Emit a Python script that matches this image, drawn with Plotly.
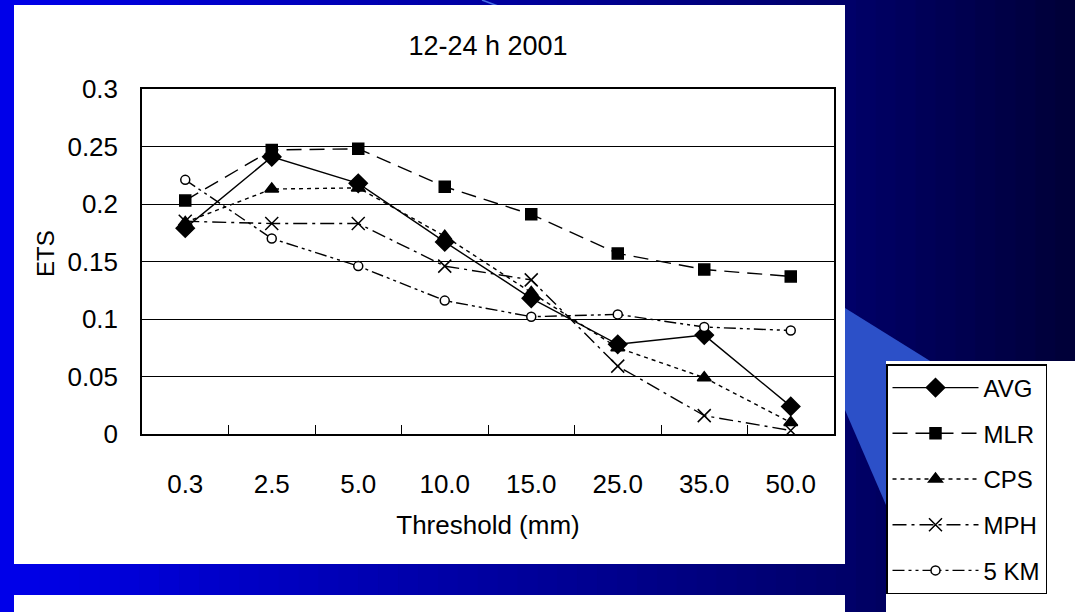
import plotly.graph_objects as go

# ---- data ----
thresholds = ["0.3", "2.5", "5.0", "10.0", "15.0", "25.0", "35.0", "50.0"]
avg = [0.179, 0.241, 0.218, 0.167, 0.118, 0.078, 0.086, 0.024]
mlr = [0.203, 0.247, 0.248, 0.215, 0.191, 0.157, 0.143, 0.137]
cps = [0.184, 0.213, 0.214, 0.172, 0.123, 0.075, 0.049, 0.010]
mph = [0.185, 0.183, 0.183, 0.146, 0.134, 0.059, 0.016, 0.003]
km5 = [0.221, 0.170, 0.146, 0.116, 0.102, 0.104, 0.093, 0.090]
y_ticks = [0, 0.05, 0.1, 0.15, 0.2, 0.25, 0.3]
y_ticktext = ["0", "0.05", "0.1", "0.15", "0.2", "0.25", "0.3"]

# ---- page geometry (pixels) ----
WIDTH, HEIGHT = 1075, 612
L, R, T, B = 142, 834, 89, 434
PW, PH = R - L, B - T


def px(X):
    return (X - L) / PW


def py(Y):
    return (B - Y) / PH


FONT = "Liberation Sans, Arial, sans-serif"

fig = go.Figure()

series = [
    ("AVG", avg, "solid", "diamond", 14, "black"),
    ("MLR", mlr, "15px,8px", "square", 11, "black"),
    ("CPS", cps, "4px,4px", "triangle-up", 12, "black"),
    ("MPH", mph, "14px,5px,3px,5px", "x-thin", 13, "black"),
    ("5 KM", km5, "12px,4px,3px,4px,3px,4px", "circle", 9, "white"),
]

for name, vals, dash, symbol, size, fill in series:
    fig.add_trace(go.Scatter(
        x=thresholds, y=vals, name=name, legendgroup=name,
        mode="lines+markers",
        line=dict(color="black", width=1.4, dash=dash),
        marker=dict(symbol=symbol, size=size, color=fill,
                    line=dict(color="black", width=1.5)),
    ))

# ---- slide background: horizontal blue gradient in strips ----
shapes = []
n_strips = 54
stops = [(0, 235), (845, 105), (1075, 55)]


def blue_at(X):
    for (x0, c0), (x1, c1) in zip(stops[:-1], stops[1:]):
        if X <= x1:
            return c0 + (c1 - c0) * (X - x0) / (x1 - x0)
    return stops[-1][1]


step = WIDTH / n_strips
for i in range(n_strips):
    x0 = i * step
    x1 = x0 + step + 0.6
    b = int(round(blue_at(x0 + step / 2)))
    shapes.append(dict(type="rect", xref="paper", yref="paper", layer="below",
                       x0=px(x0), x1=px(x1), y0=py(0), y1=py(HEIGHT),
                       line=dict(width=0), fillcolor=f"rgb(0,0,{b})"))

# light blue diagonal band at the right
band = [(845, 308), (935, 364), (935, 612), (886, 505), (845, 410)]
path = "M " + " L ".join(f"{px(x)},{py(y)}" for x, y in band) + " Z"
shapes.append(dict(type="path", xref="paper", yref="paper", layer="below",
                   path=path, fillcolor="rgb(44,80,200)", line=dict(width=0)))
# thin streak across the top strip
shapes.append(dict(type="line", xref="paper", yref="paper", layer="below",
                   x0=px(482), y0=py(0), x1=px(498), y1=py(6),
                   line=dict(color="rgb(70,110,230)", width=1.5)))

# white panels
for (x0, y0, x1, y1) in [(14, 5, 845, 564), (14, 595, 845, 612), (886, 361, 1075, 612)]:
    shapes.append(dict(type="rect", xref="paper", yref="paper", layer="below",
                       x0=px(x0), x1=px(x1), y0=py(y1), y1=py(y0),
                       line=dict(width=0), fillcolor="white"))

fig.update_layout(
    width=WIDTH, height=HEIGHT, autosize=False,
    margin=dict(l=L, r=WIDTH - R, t=T, b=HEIGHT - B, pad=0),
    paper_bgcolor="rgb(0,0,120)",
    plot_bgcolor="rgba(0,0,0,0)",
    font=dict(family=FONT, color="black", size=26),
    title=dict(text="12-24 h 2001", x=0.5, xref="paper", xanchor="center",
               y=1 - 46 / HEIGHT, yanchor="middle", yref="container",
               font=dict(size=27, family=FONT, color="black")),
    shapes=shapes,
    annotations=[dict(text="ETS", textangle=-90, xref="paper", yref="paper",
                      x=px(45), y=py(254), xanchor="center", yanchor="middle",
                      showarrow=False,
                      font=dict(size=24, family=FONT, color="black"))],
    showlegend=True,
    legend=dict(
        x=px(886), y=py(364), xanchor="left", yanchor="top",
        bgcolor="white", bordercolor="black", borderwidth=1.5,
        font=dict(size=24, family=FONT, color="black"),
        traceorder="grouped", tracegroupgap=11.5, itemwidth=86,
    ),
)

fig.update_xaxes(
    type="category", range=[-0.5, 7.5],
    showline=True, linecolor="black", linewidth=1.5, mirror=True,
    showgrid=False, zeroline=False,
    ticks="inside", tickson="boundaries", ticklen=9, tickcolor="black", tickwidth=1,
    tickfont=dict(size=26, family=FONT, color="black"),
    ticklabelstandoff=26,
    title=dict(text="Threshold (mm)", font=dict(size=26, family=FONT, color="black"),
               standoff=18),
)
fig.update_yaxes(
    range=[0, 0.3], tickvals=y_ticks, ticktext=y_ticktext,
    showline=True, linecolor="black", linewidth=1.5, mirror=True,
    showgrid=True, gridcolor="black", gridwidth=1, zeroline=False,
    ticks="", ticklabelstandoff=17,
    tickfont=dict(size=26, family=FONT, color="black"),
)

fig.write_html("out.html")
